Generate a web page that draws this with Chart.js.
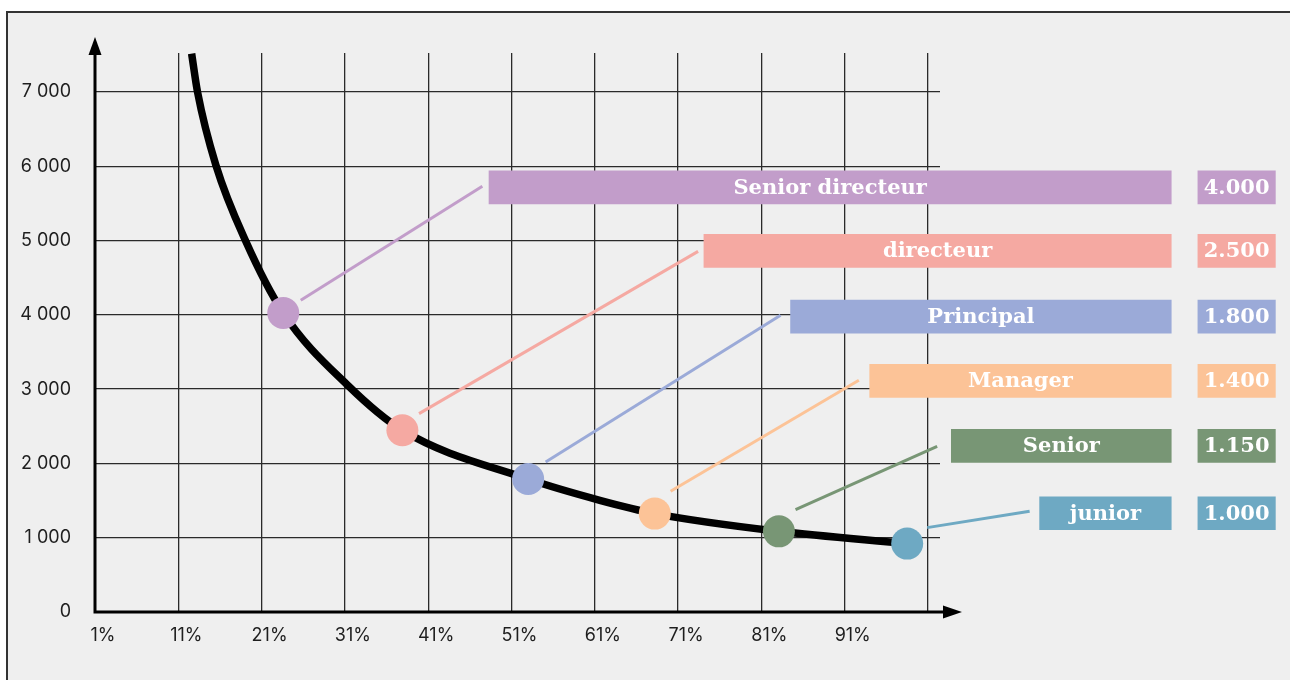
<!DOCTYPE html>
<html><head><meta charset="utf-8">
<script src="https://cdn.jsdelivr.net/npm/chart.js@4.4.1/dist/chart.umd.min.js"></script>
<style>
html,body{margin:0;padding:0;background:#fff;overflow:hidden;width:1290px;height:680px;}
#frame{position:absolute;left:6px;top:11px;width:1300px;height:700px;border:2px solid #333;background:#efefef;}
#wrap{position:absolute;left:0;top:0;width:1290px;height:680px;}
</style></head><body>
<div id="frame"></div>
<div id="wrap"><canvas id="c" width="1290" height="680"></canvas></div>
<script>
// ---- data ----
const levels = ['Senior directeur', 'directeur', 'Principal', 'Manager', 'Senior', 'junior'];
const salaryLabels = ['4.000', '2.500', '1.800', '1.400', '1.150', '1.000'];
const pointX = [23.6, 37.9, 53.0, 68.2, 83.1, 98.5];
const pointY = [4025, 2446, 1790, 1325, 1086, 921];
const curveX = [12.6, 13.3, 15.5, 19.1, 23.6, 31.4, 37.9, 53.0, 61.6, 68.2, 83.1, 98.5];
const curveY = [7517, 7005, 6020, 4990, 4025, 3045, 2446, 1790, 1504, 1325, 1086, 921];
const xTickValues = [1, 11, 21, 31, 41, 51, 61, 71, 81, 91, 101];
const xTickLabels = ['1%', '11%', '21%', '31%', '41%', '51%', '61%', '71%', '81%', '91%', ''];
const yTickValues = [0, 1000, 2000, 3000, 4000, 5000, 6000, 7000];
const yTickLabels = ['0', '1 000', '2 000', '3 000', '4 000', '5 000', '6 000', '7 000'];

// ---- layout / styles ----
const levelColors = ['#C29DCA', '#F5A9A2', '#9BAAD8', '#FCC397', '#789675', '#6EA9C3'];
const callout = {
  boxStart: [48.3, 74.1, 84.5, 94.0, 103.8, 114.4],
  boxEnd: 130.2,
  valueStart: 133.4,
  valueEnd: 142.7,
  boxY: [5717, 4862, 3976, 3112, 2237, 1329],
  lineFrom: [[25.7, 4196], [39.9, 2671], [55.1, 2019], [70.1, 1625], [85.1, 1378], [100.9, 1136]],
  lineTo: [[47.5, 5730], [73.4, 4855], [83.3, 3994], [92.7, 3119], [102.1, 2230], [113.2, 1355]]
};

const boxData = [];
const boxColors = [];
const boxTexts = [];
levels.forEach((name, i) => {
  boxData.push({x: [callout.boxStart[i], callout.boxEnd], y: callout.boxY[i]});
  boxColors.push(levelColors[i]);
  boxTexts.push(name);
  boxData.push({x: [callout.valueStart, callout.valueEnd], y: callout.boxY[i]});
  boxColors.push(levelColors[i]);
  boxTexts.push(salaryLabels[i]);
});

const connectorSets = levels.map((name, i) => ({
  type: 'line',
  label: 'conn-' + name,
  data: [{x: callout.lineFrom[i][0], y: callout.lineFrom[i][1]}, {x: callout.lineTo[i][0], y: callout.lineTo[i][1]}],
  borderColor: levelColors[i],
  borderWidth: 3,
  pointRadius: 0,
  clip: false,
  order: 2
}));

const boxTextPlugin = {
  id: 'boxText',
  afterDatasetsDraw(chart) {
    const ctx = chart.ctx;
    chart.data.datasets.forEach((ds, di) => {
      if (ds.type !== 'bar') return;
      const meta = chart.getDatasetMeta(di);
      meta.data.forEach((el, i) => {
        const cx = (el.x + el.base) / 2;
        ctx.save();
        ctx.fillStyle = '#ffffff';
        ctx.font = 'bold 21px "DejaVu Serif", serif';
        ctx.textAlign = 'center';
        ctx.textBaseline = 'middle';
        ctx.fillText(boxTexts[i], cx, el.y + 1);
        ctx.restore();
      });
    });
  }
};

const axesPlugin = {
  id: 'arrowAxes',
  beforeDatasetsDraw(chart) {
    const {ctx, chartArea: a} = chart;
    ctx.save();
    ctx.strokeStyle = '#000';
    ctx.fillStyle = '#000';
    ctx.lineWidth = 3;
    ctx.beginPath();
    ctx.moveTo(a.left, a.bottom + 1.5);
    ctx.lineTo(a.left, a.top);
    ctx.moveTo(a.left - 1.5, a.bottom);
    ctx.lineTo(a.right + 4, a.bottom);
    ctx.stroke();
    ctx.beginPath();
    ctx.moveTo(a.left, a.top - 16);
    ctx.lineTo(a.left - 6.5, a.top + 2);
    ctx.lineTo(a.left + 6.5, a.top + 2);
    ctx.closePath();
    ctx.fill();
    ctx.beginPath();
    ctx.moveTo(a.right + 22, a.bottom);
    ctx.lineTo(a.right + 3, a.bottom - 6.5);
    ctx.lineTo(a.right + 3, a.bottom + 6.5);
    ctx.closePath();
    ctx.fill();
    ctx.restore();
  }
};

Chart.defaults.font.family = 'Inter, Roboto, sans-serif';

new Chart(document.getElementById('c'), {
  type: 'line',
  data: {
    datasets: [
      {
        type: 'line',
        label: 'levels',
        data: pointX.map((x, i) => ({x, y: pointY[i]})),
        showLine: false,
        pointRadius: 16,
        pointHoverRadius: 16,
        pointBackgroundColor: levelColors,
        pointBorderWidth: 0,
        clip: false,
        order: 0
      },
      {
        type: 'line',
        label: 'curve',
        data: curveX.map((x, i) => ({x, y: curveY[i]})),
        borderColor: '#000',
        borderWidth: 7.5,
        pointRadius: 0,
        cubicInterpolationMode: 'monotone',
        clip: 0,
        order: 1
      },
      ...connectorSets,
      {
        type: 'bar',
        label: 'boxes',
        indexAxis: 'y',
        data: boxData,
        backgroundColor: boxColors,
        borderWidth: 0,
        barThickness: 33,
        clip: false,
        order: 3
      }
    ]
  },
  options: {
    responsive: false,
    animation: false,
    events: [],
    layout: {padding: {left: 0, top: 53, right: 350, bottom: 0}},
    plugins: {legend: {display: false}, tooltip: {enabled: false}},
    scales: {
      x: {
        type: 'linear',
        min: 1,
        max: 102.44,
        stacked: false,
        offset: false,
        border: {display: false},
        grid: {color: '#2a2a2a', lineWidth: 1.3, drawTicks: false, offset: false},
        afterBuildTicks: (axis) => { axis.ticks = xTickValues.map(v => ({value: v})); },
        afterFit: (s) => { s.height = 68; },
        ticks: {
          autoSkip: false,
          maxRotation: 0,
          padding: 13,
          labelOffset: 8,
          color: '#1e1e1e',
          font: {size: 18},
          callback: (v, i) => xTickLabels[i]
        }
      },
      y: {
        type: 'linear',
        min: 0,
        max: 7525,
        offset: false,
        border: {display: false},
        grid: {color: '#2a2a2a', lineWidth: 1.3, drawTicks: false, offset: false},
        afterBuildTicks: (axis) => { axis.ticks = yTickValues.map(v => ({value: v})); },
        afterFit: (s) => { s.width = 95; },
        ticks: {
          padding: 24,
          color: '#1e1e1e',
          font: {size: 18},
          callback: (v, i) => yTickLabels[i]
        }
      }
    }
  },
  plugins: [axesPlugin, boxTextPlugin]
});
</script>
</body></html>
